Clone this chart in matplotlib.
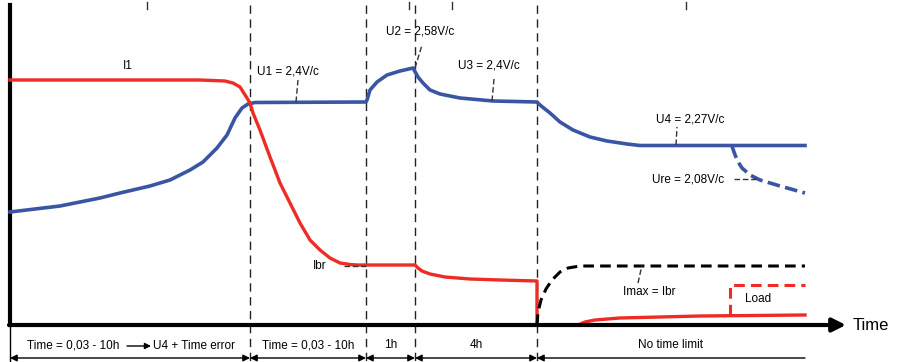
import matplotlib.pyplot as plt

# schematic coordinates: x = time position, y = level (drawn top-down like the original sketch)
phase_bounds = [10, 250, 366, 415, 537, 805]
phase_labels = ['', 'Time = 0,03 - 10h', '1h', '4h', 'No time limit']

current_x = [10, 200, 225, 233, 240, 247, 250, 253, 260, 270, 280, 290, 300,
             310, 320, 330, 340, 350, 357, 366, 415, 418, 422, 430, 445, 470,
             500, 537, 537, 578, 585, 595, 620, 660, 700, 805]
current_y = [80, 80, 81, 83, 87, 98, 103, 113, 130, 157, 183, 203, 223,
             240, 250, 258, 263, 264.5, 265, 265, 265, 268, 271, 274, 277, 279,
             280, 281, 325, 325, 322, 320, 318, 317, 316, 315]

voltage_x = [10, 60, 100, 120, 150, 170, 190, 203, 217, 227, 235, 242, 248,
             255, 366, 367, 370, 377, 387, 400, 413, 418, 423, 430, 440, 460,
             493, 537, 540, 550, 560, 573, 590, 607, 627, 640, 805]
voltage_y = [212, 206, 198, 193, 186, 180, 170, 162, 148, 135, 118, 108, 104,
             102.5, 102, 100, 90, 82, 75, 71, 68, 77, 83, 90, 94, 98,
             101, 102, 105, 113, 122, 130, 137, 141, 144, 145.5, 145.5]

rest_x = [732, 734, 737, 742, 750, 760, 780, 805]
rest_y = [146, 152, 160, 168, 175, 180, 186, 193]

imax_x = [537, 538, 541, 546, 552, 560, 568, 580, 805]
imax_y = [325, 312, 300, 289, 280, 272, 268, 266, 266]

load_x = [730, 730, 805]
load_y = [315, 285, 285]

RED = '#EE2B25'
BLUE = '#3A55A4'

plt.rcParams['font.family'] = ['Liberation Sans', 'DejaVu Sans']

fig = plt.figure(figsize=(8.98, 3.62), dpi=100)
ax = fig.add_axes([0, 0, 1, 1])
ax.set_xlim(0, 898)
ax.set_ylim(362, 0)
ax.axis('off')

# phase separators
for x in phase_bounds[1:5]:
    ax.plot([x, x], [5, 362], color='#222222', lw=1, ls=(0, (6, 4)))

# small marks on top border
for x in [147, 409, 452, 686]:
    ax.plot([x, x], [2, 9], color='#333333', lw=1)

# axes
ax.plot([10, 10], [5, 325], color='k', lw=3)
ax.plot([10, 10], [325, 362], color='k', lw=1)
ax.annotate('', xy=(846, 325), xytext=(9, 325),
            arrowprops=dict(arrowstyle='-|>', lw=3, color='k',
                            mutation_scale=20, shrinkA=0, shrinkB=0))
ax.text(853, 326, 'Time', fontsize=12, va='center', ha='left')

# curves
ax.plot(voltage_x, voltage_y, color=BLUE, lw=2.6, solid_joinstyle='round')
ax.plot(rest_x, rest_y, color=BLUE, lw=2.6, ls=(0, (3.5, 1.5)))
ax.plot(current_x, current_y, color=RED, lw=2.4, solid_joinstyle='round')
ax.plot(imax_x, imax_y, color='k', lw=2.2, ls=(0, (3.5, 2)))
ax.plot(load_x, load_y, color=RED, lw=2.2, ls=(0, (3.5, 2)))

# labels with leaders
lead = dict(color='#333333', lw=1, ls=(0, (4, 2)))
ax.text(123, 66, 'I1', fontsize=8.5, va='center')
ax.text(257, 72, 'U1 = 2,4V/c', fontsize=8.5, va='center')
ax.plot([296, 298], [102, 80], **lead)
ax.text(386, 32, 'U2 = 2,58V/c', fontsize=8.5, va='center')
ax.plot([415, 422], [68, 45], **lead)
ax.text(458, 66, 'U3 = 2,4V/c', fontsize=8.5, va='center')
ax.plot([492, 494], [101, 79], **lead)
ax.text(656, 120, 'U4 = 2,27V/c', fontsize=8.5, va='center')
ax.plot([676, 677], [145, 127], **lead)
ax.text(652, 179, 'Ure = 2,08V/c', fontsize=8.5, va='center')
ax.plot([734, 756], [179, 179], **lead)
ax.text(313, 266, 'Ibr', fontsize=8.5, va='center')
ax.plot([344, 366], [266, 266], **lead)
ax.text(623, 292, 'Imax = Ibr', fontsize=8.5, va='center')
ax.plot([638, 642], [283, 265], **lead)
ax.text(745, 299, 'Load', fontsize=8.5, va='center')

# phase durations
ax.text(27, 346, 'Time = 0,03 - 10h', fontsize=8.5, va='center')
ax.annotate('', xy=(151, 346), xytext=(127, 346),
            arrowprops=dict(arrowstyle='-|>', lw=1, color='k',
                            mutation_scale=9, shrinkA=0, shrinkB=0))
ax.text(153, 346, 'U4 + Time error', fontsize=8.5, va='center')
for i in range(1, len(phase_labels)):
    mid = (phase_bounds[i] + phase_bounds[i + 1]) / 2
    ax.text(mid, 345, phase_labels[i], fontsize=8.5, ha='center', va='center')

for i in range(len(phase_bounds) - 1):
    style = '<|-|>' if i < len(phase_bounds) - 2 else '<|-'
    ax.annotate('', xy=(phase_bounds[i + 1], 358), xytext=(phase_bounds[i], 358),
                arrowprops=dict(arrowstyle=style, lw=1, color='k',
                                mutation_scale=10, shrinkA=0, shrinkB=0))

fig.savefig('out.png', dpi=100)
